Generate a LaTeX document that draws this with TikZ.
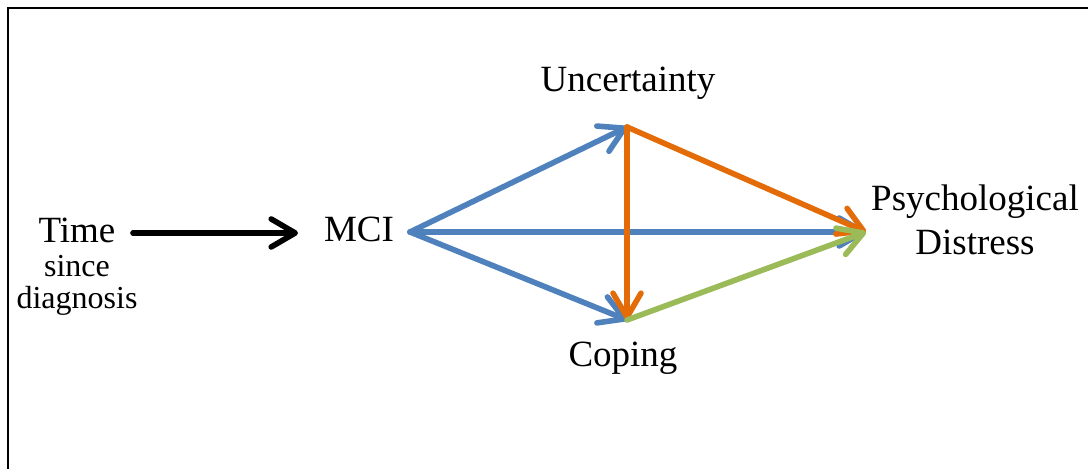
\documentclass[tikz,border=0pt]{standalone}
\usepackage{fontspec}
\setmainfont{Liberation Serif}
\usetikzlibrary{arrows.meta}
\definecolor{pathblue}{HTML}{4F81BD}
\definecolor{pathorange}{HTML}{E36C09}
\definecolor{pathgreen}{HTML}{9BBB59}
\begin{document}
\begin{tikzpicture}[
		x=0.5pt, y=-0.5pt,
		font=\fontsize{18.5}{22}\selectfont
	]
	\tikzset{
		mylabel/.style = {inner sep=0pt, align=center},
		mysmall/.style = {inner sep=0pt, font=\fontsize{16}{19}\selectfont},
		myarrow/.style = {line width=2.8pt, line cap=round,
			-{Straight Barb[length=12pt,width=14pt,round]}},
		edgeb/.style = {myarrow, pathblue},
		edgeo/.style = {myarrow, pathorange},
		edgeg/.style = {myarrow, pathgreen},
		edgek/.style = {myarrow, black},
	}
	\useasboundingbox (0,0) rectangle (1088,469);
	\draw[line width=1.3pt] (8,469) -- (8,8) -- (1088,8);
	% labels
	\node[mylabel] at (77,230) (time) {Time};
	\node[mysmall] at (77,266) (since) {since};
	\node[mysmall] at (77,301) (diag) {diagnosis};
	\node[mylabel] at (359,229) (mci) {MCI};
	\node[mylabel] at (628,83) (unc) {Uncertainty};
	\node[mylabel] at (623,358) (cop) {Coping};
	\node[mylabel] at (975,220) (psy) {Psychological\\Distress};
	% path ends
	\coordinate (tstart) at (133,233);
	\coordinate (tend) at (298,233);
	\coordinate (m) at (410,232);
	\coordinate (u) at (627,127);
	\coordinate (c) at (627,320);
	\coordinate (p) at (866,232);
	%
	\draw[edgek] (tstart) -- (tend);
	\draw[edgeb] (m) -- (u);
	\draw[edgeb] (m) -- (c);
	\draw[edgeb] (m) -- (p);
	%
	\draw[edgeo] (u) -- (c);
	\draw[edgeo] (u) -- (p);
	\draw[edgeg] (c) -- (p);
\end{tikzpicture}
\end{document}
